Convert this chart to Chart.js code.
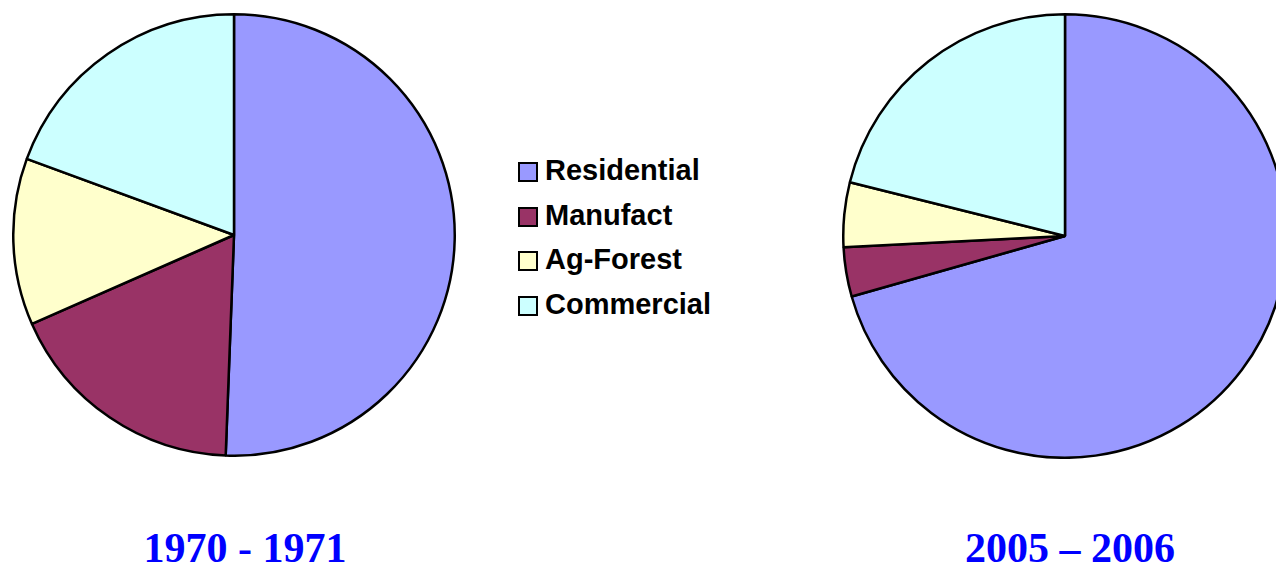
<!DOCTYPE html>
<html>
<head>
<meta charset="utf-8">
<script src="https://cdn.jsdelivr.net/npm/chart.js@4/dist/chart.umd.min.js"></script>
<style>
  html, body { margin: 0; padding: 0; background: #fff; overflow: hidden; }
  body { width: 1276px; height: 565px; position: relative; }
  canvas { position: absolute; }
  #pieOld { left: 12px; top: 13px; }
  #pieNew { left: 842px; top: 13px; }
  .title {
    position: absolute; top: 524px; width: 400px; text-align: center;
    font: bold 42px "Liberation Serif", "Times New Roman", serif; color: #0000ff;
  }
  #legend { position: absolute; left: 518px; top: 154px; }
  .item {
    height: 44.5px; display: flex; align-items: flex-start;
    font: bold 29px "Liberation Sans", Arial, sans-serif; color: #000;
  }
  .box {
    width: 16px; height: 16px; border: 2px solid #000; margin: 8px 7px 0 0;
  }
</style>
</head>
<body>
<canvas id="pieOld" width="444" height="444"></canvas>
<canvas id="pieNew" width="446" height="446"></canvas>
<div id="legend"></div>
<div class="title" style="left:45px">1970 - 1971</div>
<div class="title" style="left:870px">2005 – 2006</div>
<script>
// Land use share of the tax base, in percent
const categories = ['Residential', 'Manufact', 'Ag-Forest', 'Commercial'];
const colors = ['#9999ff', '#993366', '#ffffcc', '#ccffff'];
const values1970 = [50.6, 17.8, 12.2, 19.4];
const values2005 = [70.6, 3.6, 4.7, 21.1];

function makePie(id, values) {
  new Chart(document.getElementById(id), {
    type: 'pie',
    data: {
      labels: categories,
      datasets: [{
        data: values,
        backgroundColor: colors,
        borderColor: '#000',
        borderWidth: 2.5
      }]
    },
    options: {
      responsive: false,
      animation: false,
      layout: { padding: 0 },
      plugins: { legend: { display: false }, tooltip: { enabled: false } }
    }
  });
}

makePie('pieOld', values1970);
makePie('pieNew', values2005);

// Shared legend between the two pies
const legend = document.getElementById('legend');
categories.forEach((name, i) => {
  const row = document.createElement('div');
  row.className = 'item';
  row.innerHTML = `<span class="box" style="background:${colors[i]}"></span>${name}`;
  legend.appendChild(row);
});
</script>
</body>
</html>
